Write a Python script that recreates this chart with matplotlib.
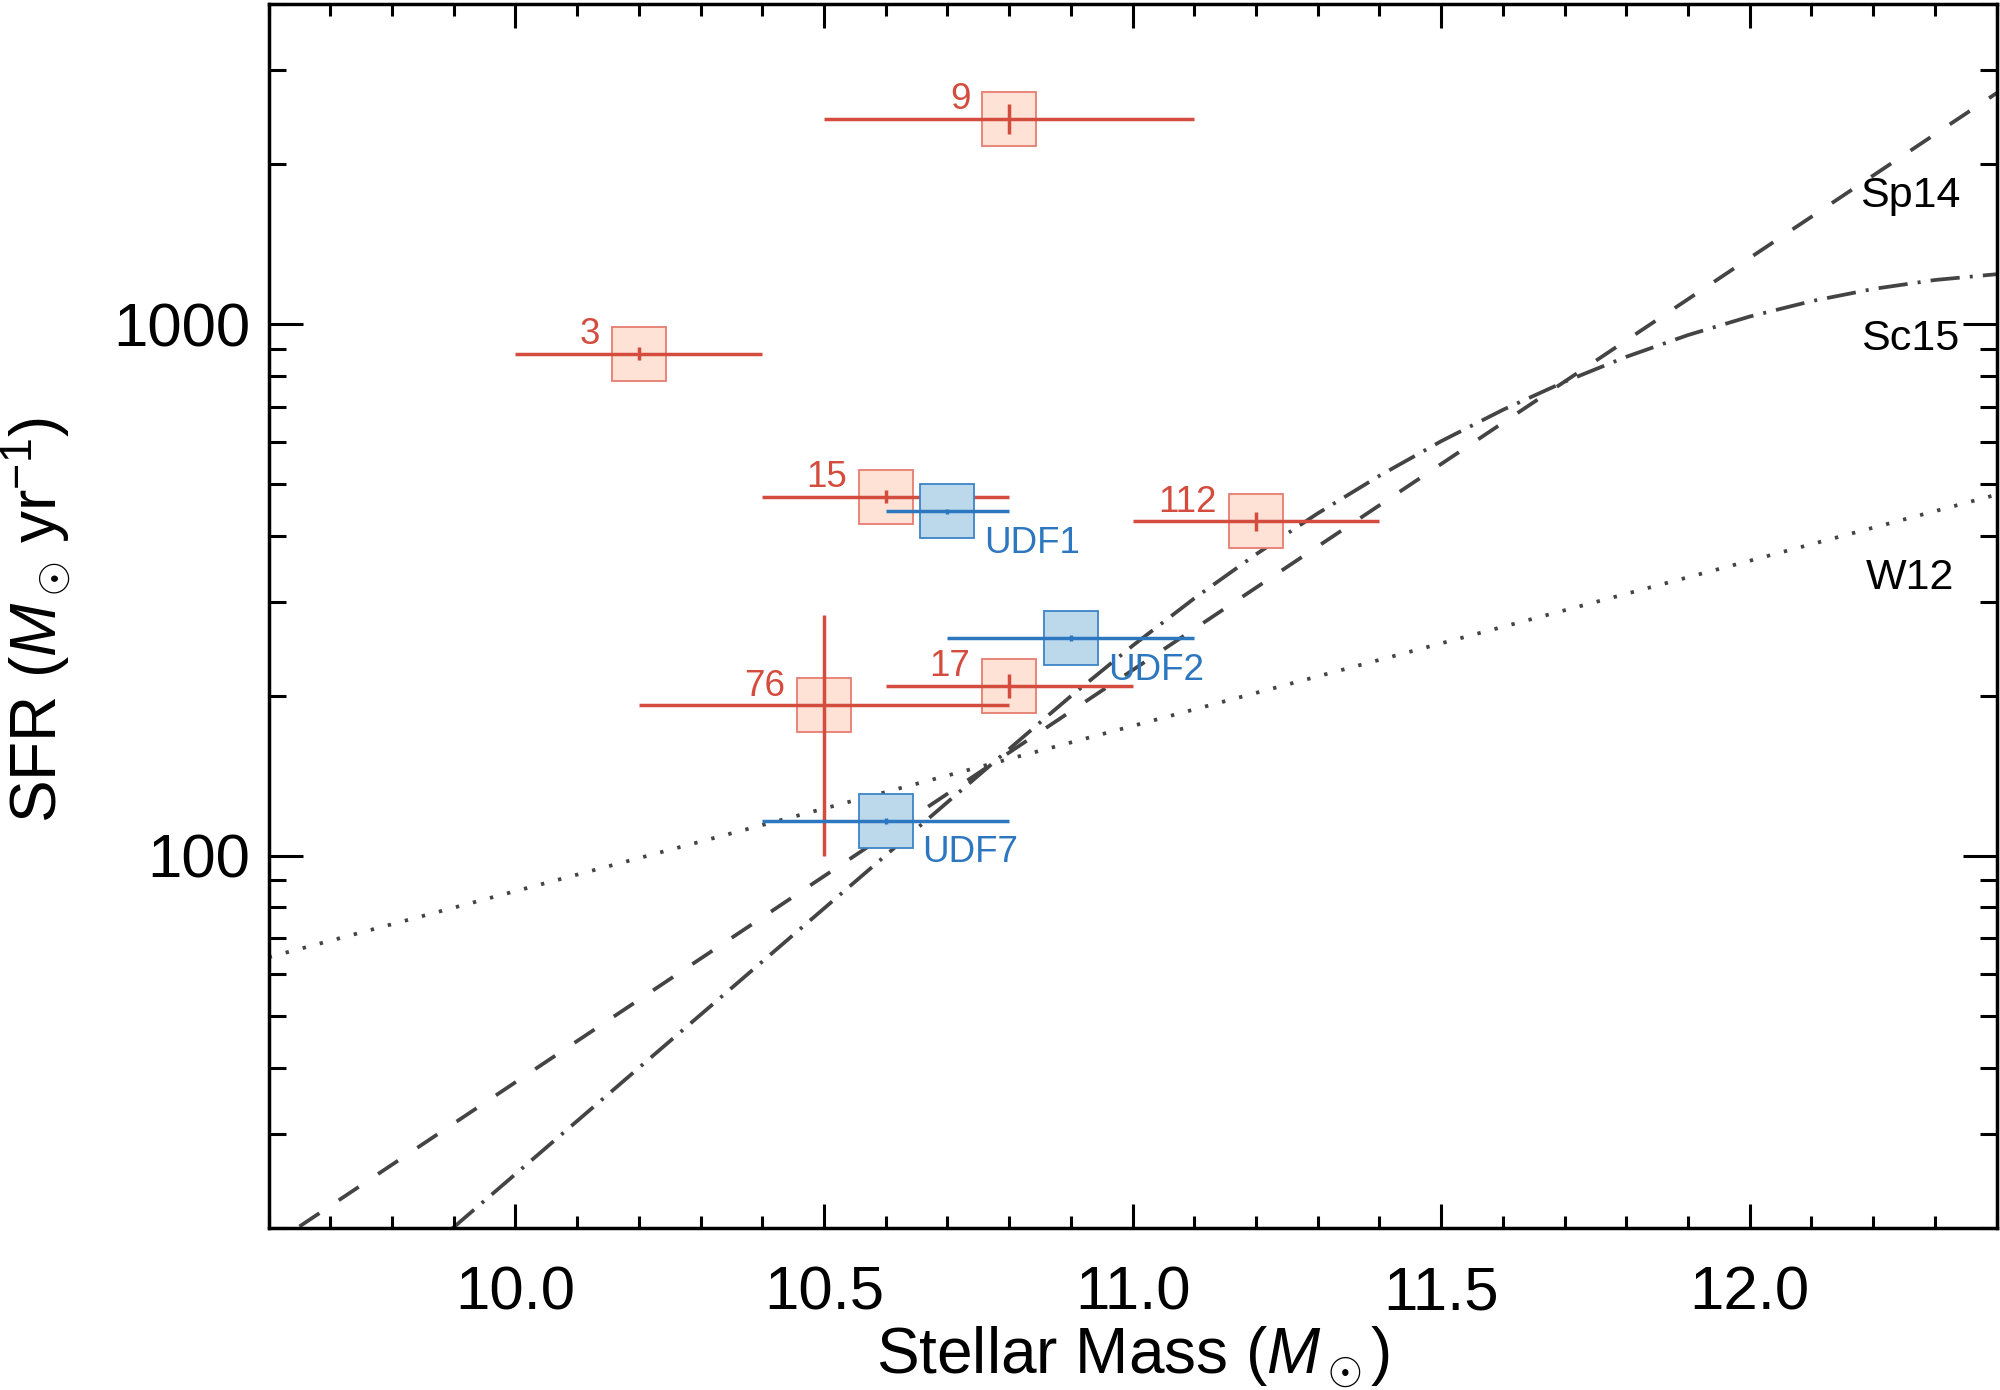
import numpy as np
import matplotlib
matplotlib.use("Agg")
import matplotlib.pyplot as plt
from matplotlib.ticker import FixedLocator, MultipleLocator, LogLocator, FuncFormatter, NullFormatter

plt.rcParams['font.family'] = ['Liberation Sans', 'DejaVu Sans']
plt.rcParams['mathtext.fontset'] = 'custom'
plt.rcParams['mathtext.rm'] = 'Liberation Sans'
plt.rcParams['mathtext.it'] = 'Liberation Sans:italic'
plt.rcParams['mathtext.bf'] = 'Liberation Sans:bold'

# red sources (numbered)
red_x = [10.8, 10.2, 10.6, 10.5, 10.8, 11.2]
red_y = [2435, 880, 474, 192, 209, 426]
red_xerr = [0.3, 0.2, 0.2, 0.3, 0.2, 0.2]
red_yerr = [160, 25, 13, 92, 11, 17]
red_labels = ['9', '3', '15', '76', '17', '112']

# blue sources (UDF)
blue_x = [10.7, 10.9, 10.6]
blue_y = [445, 257, 116.5]
blue_xerr = [0.1, 0.2, 0.2]
blue_yerr = [5, 3, 1.5]
blue_labels = ['UDF1', 'UDF2', 'UDF7']

# main-sequence relations
sp14_x = [9.65, 12.4]
sp14_y = [20.1, 2720]
w12_x = [9.6, 12.4]
w12_y = [64.5, 478]
sc15_x = [9.897, 10.865, 10.9, 11.0, 11.1, 11.2, 11.3, 11.4, 11.5, 11.6, 11.7,
          11.8, 11.9, 12.0, 12.1, 12.2, 12.3, 12.4]
sc15_y = [19.9, 184.5, 199.8, 248.5, 305.1, 369.2, 440.8, 518.8, 602.5, 690.1, 779.3,
          868.3, 954.0, 1033.7, 1104.9, 1164.8, 1210.9, 1241.6]

curve_names = ['Sp14', 'Sc15', 'W12']
curve_label_y = [1663, 896, 318]

red_line = '#D44C3E'
red_face = '#FDE2D5'
red_edge = '#E57D70'
blue_line = '#2C77BF'
blue_face = '#BCD9EC'
blue_edge = '#3D84C6'
gray = '#444444'

fig = plt.figure(figsize=(20, 13.9), dpi=100)
ax = fig.add_axes([0.1343, 0.1168, 0.8640, 0.8803])
ax.set_yscale('log')
ax.set_xlim(9.6, 12.4)
ax.set_ylim(20, 4000)

lw = 2.7
ax.plot(sp14_x, sp14_y, color=gray, lw=lw, dashes=(6.4, 6.2), zorder=1)
ax.plot(sc15_x, sc15_y, color=gray, lw=lw, dashes=(7.8, 2.7, 0.8, 2.7), zorder=1)
ax.plot(w12_x, w12_y, color=gray, lw=lw, dashes=(0.9, 3.8), zorder=1)

for name, yl in zip(curve_names, curve_label_y):
    ax.text(12.26, yl, name, ha='center', va='baseline', fontsize=31, color='black', zorder=8)

ax.plot(red_x, red_y, 's', ms=38.5, mfc=red_face, mec=red_edge, mew=1.3, ls='none', zorder=3)
ax.errorbar(red_x, red_y, xerr=red_xerr, yerr=red_yerr, fmt='none', ecolor=red_line,
            elinewidth=2.5, capsize=0, zorder=4)
ax.plot(blue_x, blue_y, 's', ms=38.5, mfc=blue_face, mec=blue_edge, mew=1.3, ls='none', zorder=5)
ax.errorbar(blue_x, blue_y, xerr=blue_xerr, yerr=blue_yerr, fmt='none', ecolor=blue_line,
            elinewidth=2.5, capsize=0, zorder=6)

for x, y, t in zip(red_x, red_y, red_labels):
    ax.annotate(t, (x, y), xytext=(-28, 7), textcoords='offset points',
                ha='right', va='baseline', fontsize=26.5, color=red_line, zorder=8)
for x, y, t in zip(blue_x, blue_y, blue_labels):
    ax.annotate(t, (x, y), xytext=(26.5, -10.5), textcoords='offset points',
                ha='left', va='top', fontsize=26.5, color=blue_line, zorder=8)

# ticks
ax.xaxis.set_major_locator(MultipleLocator(0.5))
ax.xaxis.set_minor_locator(MultipleLocator(0.1))
ax.xaxis.set_major_formatter(FuncFormatter(lambda v, p: '%.1f' % v))
ax.yaxis.set_major_locator(FixedLocator([100, 1000]))
ax.yaxis.set_minor_locator(LogLocator(base=10, subs=np.arange(2, 10)))
ax.yaxis.set_major_formatter(FuncFormatter(lambda v, p: '%d' % v))
ax.yaxis.set_minor_formatter(NullFormatter())

ax.tick_params(axis='both', which='both', direction='in', top=True, right=True, width=2.2,
               labelsize=44.5, color='black')
ax.tick_params(axis='x', which='major', length=17.6, pad=27.5)
ax.tick_params(axis='x', which='minor', length=8.8)
ax.tick_params(axis='y', which='major', length=24.8, pad=13.4)
ax.tick_params(axis='y', which='minor', length=12.4)
for s in ax.spines.values():
    s.set_linewidth(2.5)

fig.text(1133 / 2000, 1 - 1375 / 1390, r'Stellar Mass ($M_\odot$)', ha='center', va='baseline',
         fontsize=46)
fig.text(58 / 2000, 1 - 620 / 1390, r'SFR ($M_\odot\,$yr$^{-1}$)', ha='center', va='baseline',
         rotation=90, rotation_mode='anchor', fontsize=46)

fig.savefig('out.png', dpi=100)
